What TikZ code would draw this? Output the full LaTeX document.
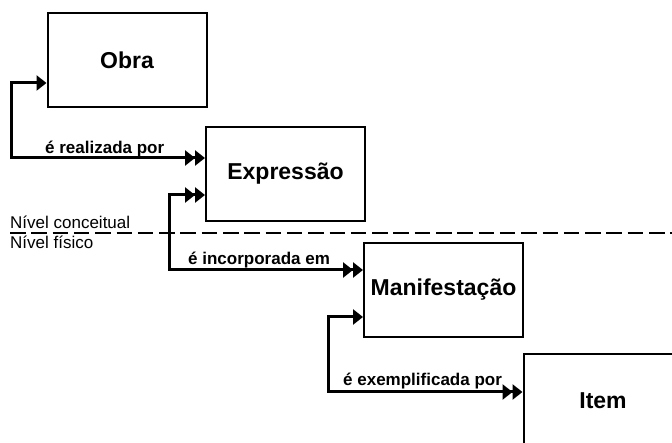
\documentclass[tikz,border=0pt]{standalone}
\usepackage{fontspec}
\setmainfont{Liberation Sans}
\usetikzlibrary{arrows.meta}
\tikzset{
  entity/.style={draw, line width=2pt, minimum width=159pt, minimum height=94pt,
    inner sep=0pt, font=\fontsize{23}{27}\selectfont\bfseries},
  rel/.style={line width=3pt},
  one/.tip={Triangle[length=10pt,width=15pt]},
  many/.tip={Triangle[length=10pt,width=15pt] Triangle[length=10pt,width=15pt]},
  rellabel/.style={anchor=base west, inner sep=0pt, font=\fontsize{17}{20}\selectfont\bfseries},
  levellabel/.style={anchor=base west, inner sep=0pt, font=\fontsize{17}{20}\selectfont},
  levelline/.style={line width=2.4pt, dash pattern=on 15.5pt off 5.8pt}
}
\begin{document}
\begin{tikzpicture}[x=1pt,y=-1pt]
\useasboundingbox (0,0) rectangle (672,443);
\begin{scope}
\clip (0,0) rectangle (672,443);
\node[entity] (Obra) at (127,60) {Obra};
\node[entity] (Expressao) at (285.5,174) {Expressão};
\node[entity] (Manifestacao) at (443.5,290) {Manifestação};
\node[entity] (Item) at (603,401) {Item};

\coordinate (lvA) at (10,233);
\coordinate (lvB) at (672,233);
\draw[levelline] (lvA) -- (lvB);
\node[levellabel] (conc) at (10,229) {Nível conceitual};
\node[levellabel] (fis) at (10,249) {Nível físico};

\coordinate (k1) at (11,158);
\coordinate (k2) at (169,270);
\coordinate (k3) at (328,392);

\draw[rel, {one}-{many}] ([yshift=-23pt]Obra.west) -| (k1) -- ([yshift=16pt]Expressao.west);
\draw[rel, {many}-{many}] ([yshift=-21pt]Expressao.west) -| (k2) -- ([yshift=20pt]Manifestacao.west);
\draw[rel, {one}-{many}] ([yshift=-27pt]Manifestacao.west) -| (k3) -- ([yshift=9pt]Item.west);

\node[rellabel] (l1) at (45,154) {é realizada por};
\node[rellabel] (l2) at (188,265) {é incorporada em};
\node[rellabel] (l3) at (343,386) {é exemplificada por};
\end{scope}
\end{tikzpicture}
\end{document}
